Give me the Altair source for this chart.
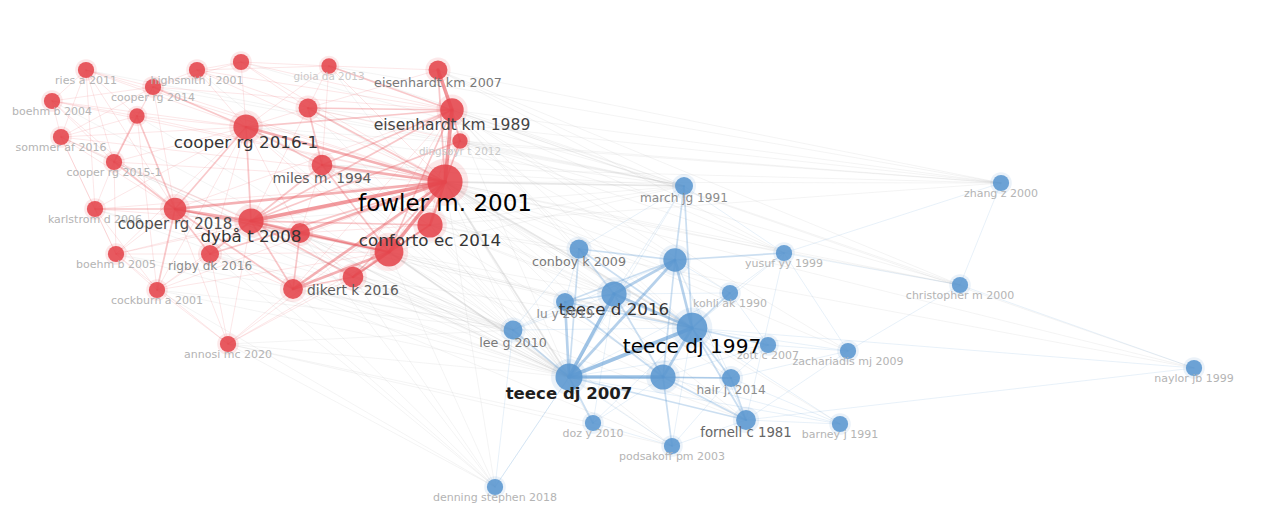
import altair as alt
import pandas as pd

# ---------------- nodes (co-citation network, VOSviewer-style layout) ----------------
node_label = [
    "ries a 2011", "highsmith j 2001", "", "gioia da 2013", "eisenhardt km 2007",
    "cooper rg 2014", "boehm b 2004", "", "", "eisenhardt km 1989",
    "sommer af 2016", "cooper rg 2016-1", "dingsøyr t 2012", "cooper rg 2015-1", "miles m. 1994",
    "fowler m. 2001", "karlstrom d 2006", "cooper rg 2018", "dybå t 2008", "",
    "conforto ec 2014", "", "boehm b 2005", "rigby dk 2016", "dikert k 2016",
    "", "cockburn a 2001", "annosi mc 2020",
    "march jg 1991", "zhang z 2000", "conboy k 2009", "", "yusuf yy 1999",
    "christopher m 2000", "kohli ak 1990", "teece d 2016", "lu y 2019", "teece dj 1997",
    "lee g 2010", "zott c 2007", "zachariadis mj 2009", "teece dj 2007", "",
    "hair j. 2014", "fornell c 1981", "barney j 1991", "naylor jb 1999", "doz y 2010",
    "podsakoff pm 2003", "denning stephen 2018",
]
node_x = [
    86, 197, 241, 329, 438, 153, 52, 137, 308, 452,
    61, 246, 460, 114, 322, 445, 95, 175, 251, 300,
    430, 389, 116, 210, 353, 293, 157, 228,
    684, 1001, 579, 675, 784, 960, 730, 614, 565, 692,
    513, 768, 848, 569, 663, 731, 746, 840, 1194, 593,
    672, 495,
]
node_y = [
    70, 70, 62, 66, 70, 87, 101, 116, 108, 110,
    137, 127, 141, 162, 165, 182, 209, 209, 221, 233,
    225, 252, 254, 254, 277, 289, 290, 344,
    186, 183, 249, 260, 253, 285, 293, 294, 302, 328,
    330, 345, 351, 377, 377, 378, 420, 424, 368, 423,
    446, 487,
]
node_weight = [
    9, 9, 9, 8.5, 10.5, 9, 9, 8.5, 10.5, 13,
    9, 14, 8.5, 9, 11.5, 19.5, 9, 12.5, 14, 11,
    14, 16, 9, 10, 11.5, 11, 9, 9,
    10, 9, 10.5, 13, 9, 9, 9, 14, 10, 17,
    10.5, 9, 9, 15, 14, 10, 11, 9, 9, 9,
    9, 9,
]
node_cluster = ["red"] * 28 + ["blue"] * 22

# ---------------- links: (source, target, strength) ----------------
edges = [
    # red cluster
    (15,0,1),(15,1,1),(15,2,1),(15,3,1),(15,4,2),(15,5,1),(15,6,1),(15,7,1),(15,8,2),(15,9,4),
    (15,10,1),(15,11,3),(15,12,2),(15,13,1),(15,14,3),(15,16,1),(15,17,3),(15,18,4),(15,19,3),
    (15,20,3),(15,21,4),(15,22,1),(15,23,2),(15,24,2),(15,25,3),(15,26,1),(15,27,1),
    (9,4,4),(9,8,2),(9,11,2),(9,14,2),(9,3,2),(9,12,2),(9,18,2),(9,21,2),(9,17,1),(9,20,1),
    (9,1,1),(9,2,1),(9,5,1),(9,24,1),(9,25,1),
    (11,0,1),(11,1,1),(11,2,1),(11,3,1),(11,5,2),(11,6,1),(11,7,1),(11,8,1),(11,10,1),(11,13,1),
    (11,14,2),(11,16,1),(11,17,2),(11,18,2),(11,19,1),(11,22,1),(11,23,1),(11,26,1),(11,21,1),
    (18,17,3),(18,21,3),(18,20,2),(18,19,2),(18,23,2),(18,25,2),(18,24,2),(18,22,1),(18,26,1),
    (18,16,1),(18,13,1),(18,14,2),(18,8,1),(18,12,2),(18,27,1),(18,10,1),
    (17,16,2),(17,13,2),(17,22,1),(17,23,2),(17,26,2),(17,10,1),(17,7,2),(17,5,1),(17,21,2),
    (17,19,1),(17,25,2),(17,27,1),(17,0,1),(17,6,1),
    (21,20,2),(21,24,3),(21,25,3),(21,19,2),(21,23,1),(21,27,1),(21,14,2),(21,12,1),(21,26,1),
    (0,6,1),(0,10,1),(0,5,1),(0,7,1),(0,13,1),(0,16,1),(6,10,1),(6,5,1),(6,13,1),(6,7,1),
    (10,13,1),(10,16,1),(10,5,1),(10,7,1),(10,22,1),(5,7,1),(5,1,1),(5,2,1),(5,13,1),(1,2,1),
    (1,8,1),(1,3,1),(2,3,1),(2,8,1),(3,4,1),(3,8,1),(7,13,2),(7,26,1),(13,16,1),(13,22,1),
    (16,22,1),(16,26,1),(22,26,1),(22,23,1),(23,26,1),(23,27,1),(26,27,1),(24,25,2),(24,27,1),
    (25,27,1),(19,25,2),(19,24,1),(14,8,2),(14,19,1),(14,3,1),(20,24,2),(20,12,1),(4,12,1),
    (4,8,1),(12,8,1),(20,19,1),(20,14,1),(23,25,1),(22,27,1),
    # blue cluster
    (41,42,4),(41,37,4),(41,35,4),(41,36,3),(41,31,3),(41,38,2),(41,30,2),(41,47,2),(41,48,1),
    (41,43,2),(41,44,2),(41,49,1),(41,34,1),(41,39,1),(41,28,1),(41,45,1),
    (37,35,3),(37,31,3),(37,42,3),(37,43,2),(37,34,2),(37,39,2),(37,40,1),(37,44,2),(37,45,1),
    (37,30,2),(37,36,2),(37,28,2),(37,32,1),(37,48,1),(37,47,1),(37,38,1),
    (35,31,3),(35,36,2),(35,30,2),(35,42,2),(35,38,1),(35,34,1),(35,28,1),(35,47,1),
    (31,28,2),(31,30,2),(31,32,2),(31,36,2),(31,42,2),(31,34,1),(31,43,1),(31,44,1),(31,38,1),
    (42,43,2),(42,44,2),(42,48,2),(42,47,1),(42,36,2),(42,45,1),(42,39,1),
    (43,44,2),(43,45,1),(43,40,1),(43,39,1),(43,48,1),(44,45,1),(44,48,1),(44,40,1),(44,32,1),
    (32,28,1),(32,33,1),(32,34,1),(32,29,1),(32,40,1),(33,29,1),(33,40,1),(33,46,1),(46,44,1),
    (46,37,1),(49,41,1),(49,38,1),(38,36,1),(38,30,1),(30,36,1),(30,28,1),(34,39,1),(39,40,1),
    (47,48,1),
    # between clusters
    (15,41,2),(15,37,2),(15,35,1),(15,30,1),(15,28,2),(15,31,1),(15,38,1),(15,36,1),(15,29,1),
    (15,33,1),(15,32,1),(15,42,1),(15,44,1),(15,47,1),(15,46,1),(15,49,1),(15,43,1),
    (9,28,1),(9,41,1),(9,37,1),(9,30,1),(9,35,1),(9,29,1),(9,33,1),
    (20,41,1),(20,38,1),(20,35,1),(20,30,1),(20,37,1),(18,41,1),(18,38,1),(18,37,1),
    (21,41,2),(21,38,1),(21,37,1),(21,35,1),(21,49,1),(24,41,1),(24,38,1),(24,49,1),(24,37,1),
    (11,41,1),(11,28,1),(11,37,1),(17,41,1),(17,37,1),(17,49,1),
    (14,41,1),(14,28,1),(14,37,1),(14,44,1),(14,48,1),(12,28,1),(12,29,1),(12,31,1),(12,37,1),
    (4,28,1),(4,29,1),(4,32,1),(3,41,1),(3,28,1),(25,41,1),(25,49,1),(25,38,1),
    (27,41,1),(27,49,1),(27,38,1),(27,48,1),(19,41,1),(19,37,1),(19,38,1),(23,41,1),(23,49,1),
    (26,41,1),(26,49,1),(8,28,1),(8,41,1),(8,37,1),(22,41,1),(16,41,1),(13,41,1),(5,28,1),
    (10,41,1),(0,28,1),(6,41,1),(1,41,1),(2,28,1),(7,41,1),
    (9,32,1),(9,40,1),(15,40,1),(15,45,1),(14,33,1),(20,28,1),(21,28,1),(12,33,1),(4,33,1),
    (11,29,1),(18,28,1),(24,44,1),(21,44,1),(25,48,1),(27,47,1),(23,38,1),(22,38,1),(26,38,1),
    (16,38,1),(13,38,1),(17,38,1),(19,49,1),(21,48,1),(20,29,1),(14,29,1),(15,34,1),(9,34,1),
    (12,32,1),(8,29,1),(3,29,1),(20,46,1),(9,46,1),
]

# ---------------- tables ----------------
nodes = pd.DataFrame({
    "label": node_label, "x": node_x, "y": node_y,
    "weight": node_weight, "cluster": node_cluster,
})

rows = []
for s, t, w in edges:
    cs, ct = node_cluster[s], node_cluster[t]
    kind = cs if cs == ct else "mixed"
    rows.append({"x": node_x[s], "y": node_y[s], "x2": node_x[t], "y2": node_y[t],
                 "strength": w, "kind": kind})
edf = pd.DataFrame(rows)
order = {"mixed": 0, "red": 1, "blue": 2}
edf["o"] = edf["kind"].map(order) * 10 + edf["strength"]
edf = edf.sort_values("o").reset_index(drop=True)

W, H = 1264, 501
xs = alt.Scale(domain=[8, 8 + W], nice=False, zero=False)
ys = alt.Scale(domain=[8, 8 + H], reverse=True, nice=False, zero=False)
FONT = "DejaVu Sans"
label_size = alt.Scale(domain=[9, 19.5], range=[11, 23])

edge_layer = alt.Chart(edf).mark_rule(strokeCap="round").encode(
    x=alt.X("x:Q", scale=xs, axis=None),
    y=alt.Y("y:Q", scale=ys, axis=None),
    x2="x2:Q", y2="y2:Q",
    color=alt.Color("kind:N", scale=alt.Scale(domain=["mixed", "red", "blue"],
                    range=["#b4b4b4", "#e8555b", "#5f9bd3"]), legend=None),
    strokeWidth=alt.StrokeWidth("strength:Q", scale=alt.Scale(domain=[1, 4], range=[0.8, 3.6]), legend=None),
    opacity=alt.Opacity("strength:Q", scale=alt.Scale(domain=[1, 4], range=[0.18, 0.6]), legend=None),
    order=alt.Order("o:Q"),
)

node_color = alt.Scale(domain=["red", "blue"], range=["#e4444b", "#5a96cf"])

halo = alt.Chart(nodes).mark_circle(opacity=0.12).encode(
    x=alt.X("x:Q", scale=xs, axis=None),
    y=alt.Y("y:Q", scale=ys, axis=None),
    size=alt.Size("weight:Q", scale=alt.Scale(type="pow", exponent=2, domain=[0, 20], range=[0, 2300]), legend=None),
    color=alt.Color("cluster:N", scale=node_color, legend=None),
)

node_layer = alt.Chart(nodes).mark_circle(opacity=0.88).encode(
    x=alt.X("x:Q", scale=xs, axis=None),
    y=alt.Y("y:Q", scale=ys, axis=None),
    size=alt.Size("weight:Q", scale=alt.Scale(type="pow", exponent=2, domain=[0, 20], range=[0, 1300]), legend=None),
    color=alt.Color("cluster:N", scale=node_color, legend=None),
)

label_layer = alt.Chart(nodes).transform_filter(
    "datum.label != '' && datum.label != 'teece dj 2007'"
).transform_calculate(
    ly="datum.y + datum.weight + 2"
).mark_text(align="center", baseline="middle", font=FONT).encode(
    x=alt.X("x:Q", scale=xs, axis=None),
    y=alt.Y("ly:Q", scale=ys, axis=None),
    text="label:N",
    size=alt.Size("weight:Q", scale=label_size, legend=None),
    color=alt.Color("weight:Q", scale=alt.Scale(domain=[9, 11, 15], range=["#b4b4b4", "#666666", "#262626"]), legend=None),
)

bold_layer = alt.Chart(nodes).transform_filter(
    "datum.label == 'teece dj 2007'"
).transform_calculate(
    ly="datum.y + datum.weight + 2"
).mark_text(align="center", baseline="middle", font=FONT, fontWeight="bold", color="#1e1e1e").encode(
    x=alt.X("x:Q", scale=xs, axis=None),
    y=alt.Y("ly:Q", scale=ys, axis=None),
    text="label:N",
    size=alt.Size("weight:Q", scale=alt.Scale(domain=[9, 19.5], range=[10, 21.5]), legend=None),
)

chart = alt.layer(edge_layer, halo, node_layer, label_layer, bold_layer).resolve_scale(
    color="independent", size="independent", opacity="independent", strokeWidth="independent"
).properties(
    width=W, height=H, padding=0,
    autosize=alt.AutoSizeParams(type="fit", contains="padding"),
    background="white",
).configure_view(stroke=None)

chart.save("out.html", embed_options={"renderer": "svg", "actions": False})
